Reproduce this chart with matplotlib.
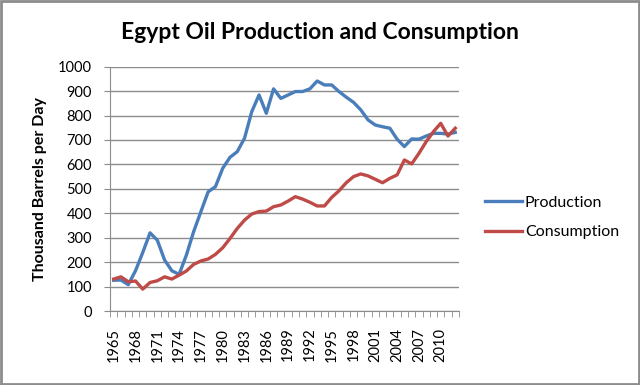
import numpy as np
import matplotlib.pyplot as plt
from matplotlib.patches import Rectangle

plt.rcParams['font.family'] = ['Lato', 'DejaVu Sans']

years = list(range(1965, 2013))
production = [126, 127, 108, 165, 240, 320, 290, 209, 165, 150,
              229, 325, 407, 488, 509, 584, 629, 652, 707, 816,
              884, 809, 909, 870, 884, 898, 898, 909, 941, 925,
              925, 898, 875, 854, 823, 782, 761, 754, 748, 703,
              673, 704, 703, 716, 727, 727, 724, 731]
consumption = [131, 140, 120, 123, 90, 117, 124, 140, 131, 147,
               164, 191, 205, 213, 232, 259, 297, 338, 372, 397,
               407, 409, 427, 434, 450, 468, 458, 445, 430, 430,
               465, 492, 525, 550, 561, 553, 539, 525, 543, 557,
               618, 602, 645, 693, 734, 768, 716, 748]

fig = plt.figure(figsize=(6.4, 3.85), dpi=100)
ax = fig.add_axes([0.172, 0.192, 0.545, 0.635])

ax.plot(years, production, color='#4A7EBB', lw=2.4, label='Production')
ax.plot(years, consumption, color='#BE4B48', lw=2.4, label='Consumption')

ax.set_xlim(1964.5, 2012.5)
ax.set_ylim(0, 1000)
ax.set_yticks(range(0, 1001, 100))
ax.yaxis.grid(True, color='#8c8c8c', lw=1)
ax.set_axisbelow(True)
ax.tick_params(axis='y', length=4, color='#8c8c8c', labelsize=10.5, pad=9)

ax.set_xticks(years[::3])
ax.set_xticklabels([str(y) for y in years[::3]], rotation=90, fontsize=10.5)
ax.set_xticks(np.arange(1964.5, 2013, 1), minor=True)
ax.tick_params(axis='x', which='major', length=0, pad=12)
ax.tick_params(axis='x', which='minor', length=4, color='#8c8c8c')

for s in ['top', 'right']:
    ax.spines[s].set_visible(False)
for s in ['left', 'bottom']:
    ax.spines[s].set_color('#8c8c8c')

ax.set_ylabel('Thousand Barrels per Day', fontsize=11.5, fontweight='bold',
              labelpad=8)
fig.suptitle('Egypt Oil Production and Consumption', x=0.5, y=0.915,
             va='center', fontsize=16.5, fontweight='bold')

ax.legend(loc='center left', bbox_to_anchor=(485 / 640, 0.435),
          bbox_transform=fig.transFigure, frameon=False, fontsize=11.5,
          handlelength=2.3, handletextpad=0.2, borderpad=0, borderaxespad=0,
          labelspacing=0.95)

fig.patches.append(Rectangle((0.002, 0.003), 0.996, 0.994, transform=fig.transFigure,
                             fill=False, edgecolor='#8c8c8c', lw=2))

fig.savefig('out.png', dpi=100)
